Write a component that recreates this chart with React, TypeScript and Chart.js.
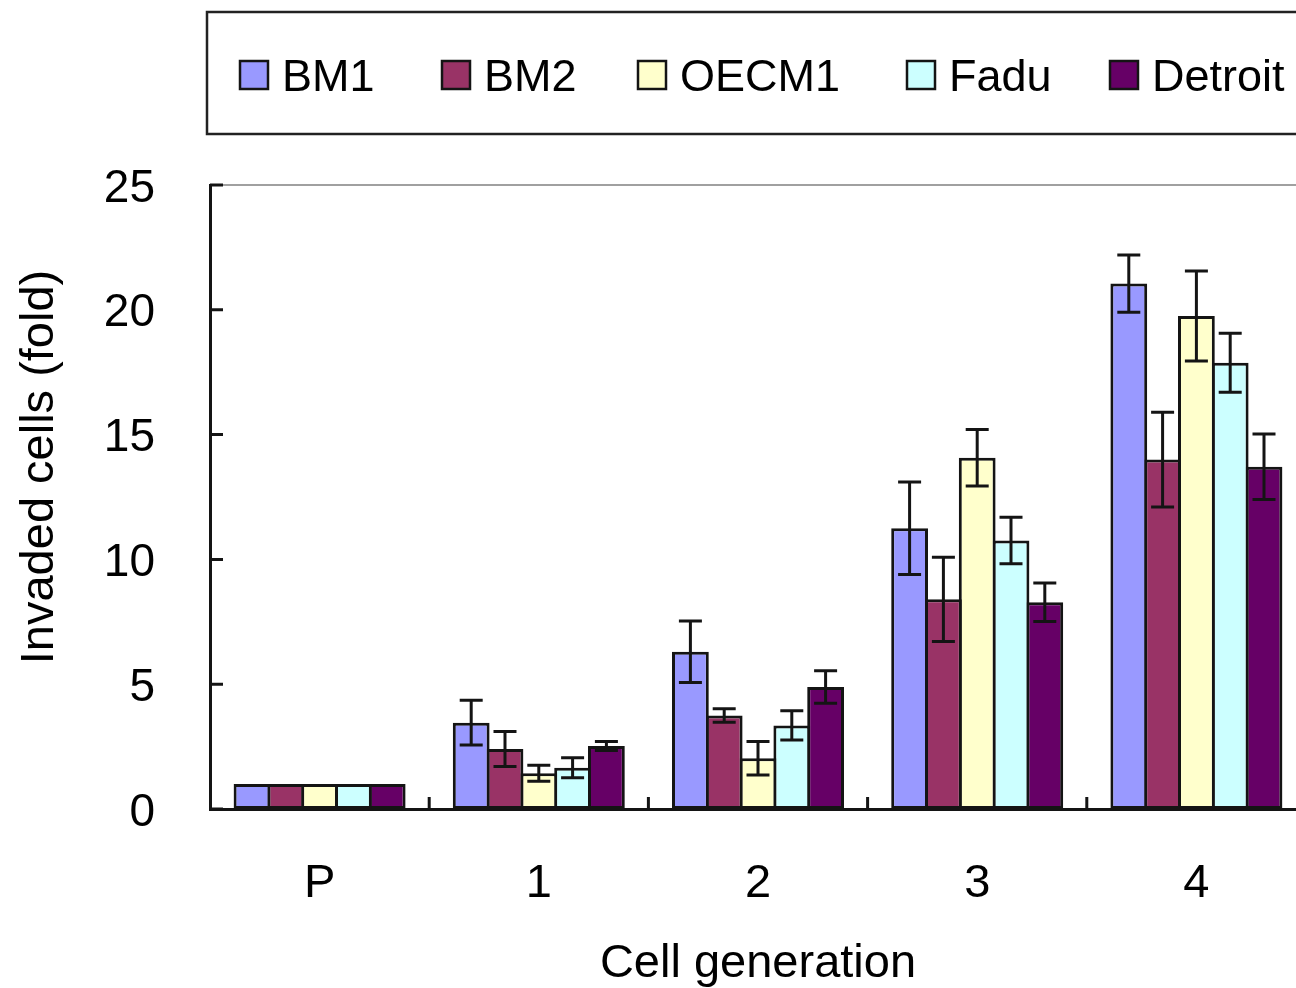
import React, { useEffect, useRef } from "react";
import { Chart, registerables } from "chart.js";

Chart.register(...registerables);

// ---------- data ----------
const categories = ["P", "1", "2", "3", "4"];
const seriesNames = ["BM1", "BM2", "OECM1", "Fadu", "Detroit"];
const seriesColors = ["#9999FF", "#993366", "#FFFFCC", "#CCFFFF", "#660066"];

const bm1 = [1, 3.46, 6.3, 11.25, 21.05];
const bm1Err = [0, 0.9, 1.23, 1.85, 1.15];
const bm2 = [1, 2.4, 3.75, 8.4, 14.0];
const bm2Err = [0, 0.7, 0.27, 1.69, 1.9];
const oecm1 = [1, 1.43, 2.03, 14.07, 19.75];
const oecm1Err = [0, 0.32, 0.67, 1.13, 1.8];
const fadu = [1, 1.65, 3.35, 10.76, 17.88];
const faduErr = [0, 0.4, 0.59, 0.93, 1.18];
const detroit = [1, 2.52, 4.89, 8.28, 13.71];
const detroitErr = [0, 0.18, 0.65, 0.77, 1.31];

const yTicks = [0, 5, 10, 15, 20, 25];
const xTitle = "Cell generation";
const yTitle = "Invaded cells (fold)";

const seriesValues = [bm1, bm2, oecm1, fadu, detroit];
const seriesErrors = [bm1Err, bm2Err, oecm1Err, faduErr, detroitErr];

const FONT = "'Liberation Sans', Arial, sans-serif";
const LINE = "#141414";
// legend layout (left edge of each legend swatch)
const LEGEND_SWATCH_X = [240, 442, 638, 907, 1110];

// ---------- plugins ----------
const errorBarPlugin = {
  id: "errorBars",
  afterDatasetsDraw(chart: any) {
    const ctx = chart.ctx;
    const yScale = chart.scales.y;
    ctx.save();
    ctx.strokeStyle = LINE;
    ctx.lineWidth = 3;
    chart.data.datasets.forEach((ds: any, i: number) => {
      const meta = chart.getDatasetMeta(i);
      const errs = seriesErrors[i];
      meta.data.forEach((el: any, j: number) => {
        const e = errs[j];
        if (!e) return;
        const v = ds.data[j];
        const yTop = yScale.getPixelForValue(v + e);
        const yBot = yScale.getPixelForValue(v - e);
        const cap = 11.5;
        ctx.beginPath();
        ctx.moveTo(el.x, yTop);
        ctx.lineTo(el.x, yBot);
        ctx.moveTo(el.x - cap, yTop);
        ctx.lineTo(el.x + cap, yTop);
        ctx.moveTo(el.x - cap, yBot);
        ctx.lineTo(el.x + cap, yBot);
        ctx.stroke();
      });
    });
    ctx.restore();
  },
};

const framePlugin = {
  id: "frame",
  afterDraw(chart: any) {
    const ctx = chart.ctx;
    const { left, right, top, bottom } = chart.chartArea;
    const xScale = chart.scales.x;
    const yScale = chart.scales.y;
    ctx.save();
    // top border (gray)
    ctx.strokeStyle = "#a0a0a0";
    ctx.lineWidth = 2;
    ctx.beginPath();
    ctx.moveTo(left, top);
    ctx.lineTo(right + 20, top);
    ctx.stroke();
    // y ticks inward
    ctx.strokeStyle = LINE;
    ctx.lineWidth = 3;
    ctx.beginPath();
    yTicks.forEach((v) => {
      const y = yScale.getPixelForValue(v);
      ctx.moveTo(left, y);
      ctx.lineTo(left + 13, y);
    });
    // x ticks upward at category boundaries
    const n = categories.length;
    const cw = (xScale.right - xScale.left) / n;
    for (let i = 0; i < n; i++) {
      const x = xScale.getPixelForValue(i) + cw / 2;
      ctx.moveTo(x, bottom);
      ctx.lineTo(x, bottom - 12);
    }
    ctx.stroke();

    // axis titles
    ctx.fillStyle = "#000";
    ctx.font = `47px ${FONT}`;
    ctx.textAlign = "center";
    ctx.textBaseline = "alphabetic";
    ctx.fillText(xTitle, (left + right) / 2, 977);
    ctx.save();
    ctx.translate(53, 467);
    ctx.rotate(-Math.PI / 2);
    ctx.fillText(yTitle, 0, 0);
    ctx.restore();

    // legend box
    ctx.strokeStyle = "#222";
    ctx.lineWidth = 2.5;
    ctx.strokeRect(207, 12, 1200, 122);
    ctx.font = `45px ${FONT}`;
    ctx.textAlign = "left";
    ctx.textBaseline = "alphabetic";
    chart.data.datasets.forEach((ds: any, i: number) => {
      const x = LEGEND_SWATCH_X[i];
      ctx.fillStyle = ds.backgroundColor;
      ctx.fillRect(x, 61, 28, 28);
      ctx.strokeStyle = LINE;
      ctx.lineWidth = 2.5;
      ctx.strokeRect(x, 61, 28, 28);
      ctx.fillStyle = "#000";
      ctx.fillText(ds.label, x + 42, 91);
    });
    ctx.restore();
  },
};

export default function App() {
  const ref = useRef<HTMLCanvasElement | null>(null);

  useEffect(() => {
    if (!ref.current) return;
    const chart = new Chart(ref.current, {
      type: "bar",
      data: {
        labels: categories,
        datasets: seriesNames.map((name, i) => ({
          label: name,
          data: seriesValues[i],
          backgroundColor: seriesColors[i],
          borderColor: LINE,
          borderWidth: 3,
          borderSkipped: false,
          categoryPercentage: 0.771,
          barPercentage: 1.0885,
        })),
      },
      options: {
        animation: false,
        responsive: false,
        devicePixelRatio: 1,
        layout: { padding: { top: 185, right: 14, bottom: 0, left: 0 } },
        plugins: {
          legend: { display: false },
          tooltip: { enabled: false },
        },
        scales: {
          x: {
            afterFit: (s: any) => {
              s.height = 179;
            },
            grid: { display: false, drawTicks: false },
            border: { display: true, color: LINE, width: 3 },
            ticks: {
              color: "#000",
              font: { family: FONT, size: 47 },
              padding: 47,
            },
          },
          y: {
            min: 0,
            max: 25,
            afterFit: (s: any) => {
              s.width = 210;
            },
            afterBuildTicks: (s: any) => {
              s.ticks = yTicks.map((v) => ({ value: v }));
            },
            grid: { display: false, drawTicks: false },
            border: { display: true, color: LINE, width: 3 },
            ticks: {
              color: "#000",
              font: { family: FONT, size: 46 },
              padding: 55,
              labelOffset: 4,
            },
          },
        },
      },
      plugins: [errorBarPlugin, framePlugin],
    });
    return () => chart.destroy();
  }, []);

  return (
    <div
      style={{
        position: "absolute",
        left: 0,
        top: 0,
        width: 1296,
        height: 988,
        overflow: "hidden",
        background: "#fff",
      }}
    >
      <canvas ref={ref} width={1320} height={988} style={{ display: "block" }} />
    </div>
  );
}
